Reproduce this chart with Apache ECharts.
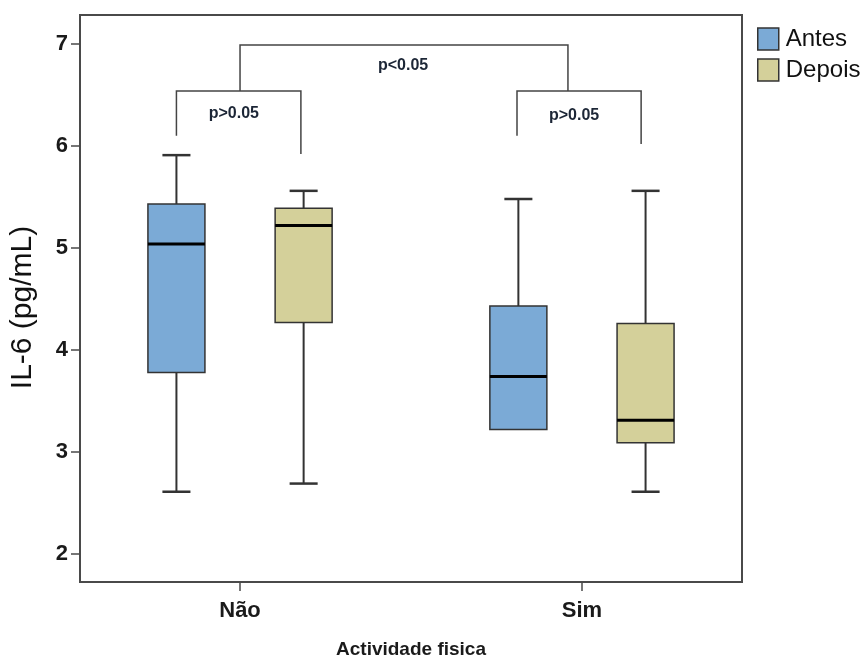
<!DOCTYPE html>
<html>
<head>
<meta charset="utf-8">
<script src="https://cdn.jsdelivr.net/npm/echarts@6/dist/echarts.min.js"></script>
<style>html,body{margin:0;padding:0;background:#fff}#c{width:864px;height:658px}</style>
</head>
<body>
<div id="c"></div>
<script>
// ---- data ----
const categories = ['Não', 'Sim'];
const seriesNames = ['Antes', 'Depois'];
// [categoryIndex, min, Q1, median, Q3, max]
const antesBoxes = [
  [0, 2.61, 3.78, 5.04, 5.43, 5.91],
  [1, 3.22, 3.22, 3.74, 4.43, 5.48]
];
const depoisBoxes = [
  [0, 2.69, 4.27, 5.22, 5.39, 5.56],
  [1, 2.61, 3.09, 3.31, 4.26, 5.56]
];
const yTicks = [2, 3, 4, 5, 6, 7];
// brackets: [x1, x2, yTop, yLeftEnd, yRightEnd]
const brackets = [
  [-0.186, 0.178, 6.54, 6.10, 5.92],
  [0.810, 1.173, 6.54, 6.10, 6.02],
  [0.000, 0.959, 6.99, 6.54, 6.54]
];
const pLabels = ['p>0.05', 'p>0.05', 'p<0.05'];
const pLabelPos = [[-0.018, 6.32], [0.977, 6.30], [0.477, 6.79]];

const colors = { Antes: '#7BAAD6', Depois: '#D4D09A' };
const lineCol = '#333333';
const FONT = '"Liberation Sans", Arial, sans-serif';

function boxRenderer(offset) {
  return function (params, api) {
    const x = api.value(0) + offset;
    const vmin = api.value(1), q1 = api.value(2), med = api.value(3), q3 = api.value(4), vmax = api.value(5);
    const halfW = api.size([0.1667, 0])[0] / 2;
    const capHalf = api.size([0.082, 0])[0] / 2;
    const pMin = api.coord([x, vmin]), pQ1 = api.coord([x, q1]), pMed = api.coord([x, med]),
          pQ3 = api.coord([x, q3]), pMax = api.coord([x, vmax]);
    const cx = pMed[0];
    const children = [];
    if (vmax > q3) {
      children.push({ type: 'line', shape: { x1: cx, y1: pMax[1], x2: cx, y2: pQ3[1] }, style: { stroke: lineCol, lineWidth: 2 } });
      children.push({ type: 'line', shape: { x1: cx - capHalf, y1: pMax[1], x2: cx + capHalf, y2: pMax[1] }, style: { stroke: lineCol, lineWidth: 2.5 } });
    }
    if (vmin < q1) {
      children.push({ type: 'line', shape: { x1: cx, y1: pQ1[1], x2: cx, y2: pMin[1] }, style: { stroke: lineCol, lineWidth: 2 } });
      children.push({ type: 'line', shape: { x1: cx - capHalf, y1: pMin[1], x2: cx + capHalf, y2: pMin[1] }, style: { stroke: lineCol, lineWidth: 2.5 } });
    }
    children.push({ type: 'rect', shape: { x: cx - halfW, y: pQ3[1], width: halfW * 2, height: pQ1[1] - pQ3[1] },
      style: { fill: api.visual('color'), stroke: lineCol, lineWidth: 1.5 } });
    children.push({ type: 'line', shape: { x1: cx - halfW, y1: pMed[1], x2: cx + halfW, y2: pMed[1] }, style: { stroke: '#000', lineWidth: 3 } });
    return { type: 'group', children: children };
  };
}

const chart = echarts.init(document.getElementById('c'));
chart.setOption({
  backgroundColor: '#fff',
  animation: false,
  grid: { left: 80, right: 122, top: 15, bottom: 76, show: true, borderColor: '#4a4a4a', borderWidth: 2,
    containLabel: false, outerBoundsMode: 'none' },
  legend: {
    left: 752, top: 22, orient: 'vertical', icon: 'rect',
    itemWidth: 21, itemHeight: 22, itemGap: 7,
    textStyle: { fontFamily: FONT, fontSize: 24, color: '#111', lineHeight: 22, padding: [0, 0, 0, 2] },
    data: seriesNames.map(n => ({ name: n, itemStyle: { color: colors[n], borderColor: lineCol, borderWidth: 1.5 } }))
  },
  xAxis: {
    type: 'value', min: -0.468, max: 1.468,
    name: 'Actividade fisica', nameLocation: 'middle', nameGap: 58,
    nameTextStyle: { fontFamily: FONT, fontSize: 19, fontWeight: 'bold', color: '#1a1a1a' },
    axisLine: { show: true, onZero: false, lineStyle: { color: '#4a4a4a', width: 2 } },
    axisTick: { show: true, customValues: [0, 1], length: 9, lineStyle: { color: '#4a4a4a', width: 1.5 } },
    axisLabel: { customValues: [0, 1], formatter: v => categories[Math.round(v)], margin: 18,
      fontFamily: FONT, fontSize: 22, fontWeight: 'bold', color: '#1a1a1a' },
    splitLine: { show: false }
  },
  yAxis: {
    type: 'value', min: 1.725, max: 7.284,
    name: 'IL-6 (pg/mL)', nameLocation: 'middle', nameGap: 42, nameRotate: 90,
    nameTextStyle: { fontFamily: FONT, fontSize: 30, color: '#111', padding: [0, 18, 0, 0] },
    axisLine: { show: true, onZero: false, lineStyle: { color: '#4a4a4a', width: 2 } },
    axisTick: { show: true, customValues: yTicks, length: 9, lineStyle: { color: '#4a4a4a', width: 1.5 } },
    axisLabel: { customValues: yTicks, margin: 12, fontFamily: FONT, fontSize: 22, fontWeight: 'bold', color: '#1a1a1a' },
    splitLine: { show: false }
  },
  series: [
    { name: 'Antes', type: 'custom', itemStyle: { color: colors.Antes }, renderItem: boxRenderer(-0.186), data: antesBoxes, clip: false },
    { name: 'Depois', type: 'custom', itemStyle: { color: colors.Depois }, renderItem: boxRenderer(0.186), data: depoisBoxes, clip: false },
    {
      name: 'brackets', type: 'custom', silent: true, data: brackets,
      renderItem: function (params, api) {
        const x1 = api.value(0), x2 = api.value(1), yt = api.value(2), yl = api.value(3), yr = api.value(4);
        const a = api.coord([x1, yl]), b = api.coord([x1, yt]), c = api.coord([x2, yt]), d = api.coord([x2, yr]);
        return { type: 'polyline', shape: { points: [a, b, c, d] }, style: { stroke: '#444', lineWidth: 1.5, fill: null } };
      }
    },
    {
      name: 'pvalues', type: 'custom', silent: true, data: pLabelPos,
      renderItem: function (params, api) {
        const p = api.coord([api.value(0), api.value(1)]);
        return { type: 'text', x: p[0], y: p[1], style: { text: pLabels[params.dataIndex], fill: '#1c2636',
          font: 'bold 16px ' + FONT, textAlign: 'center', textVerticalAlign: 'middle' } };
      }
    }
  ]
});
</script>
</body>
</html>
